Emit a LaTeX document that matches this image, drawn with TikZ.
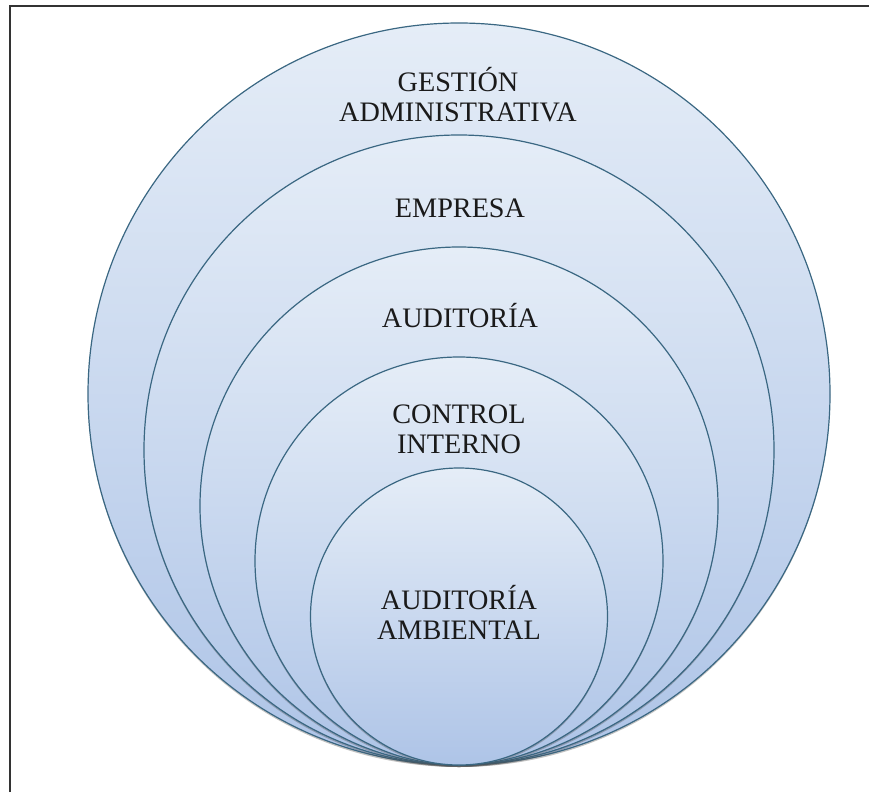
\documentclass[tikz,border=0pt]{standalone}
\usepackage{fontspec}
\setmainfont{Liberation Serif}
\usetikzlibrary{shadows}
\definecolor{ringline}{HTML}{3A6782}
\definecolor{ringtop}{HTML}{E5EDF7}
\definecolor{ringbot}{HTML}{AEC4E7}
\definecolor{framecol}{HTML}{333333}
\definecolor{txt}{HTML}{1A1A1A}
\tikzset{
  ring/.style={circle, inner sep=0pt, draw=ringline, line width=1.2pt,
    top color=ringtop, bottom color=ringbot,
    drop shadow={shadow xshift=0pt, shadow yshift=-2pt, opacity=0.35, fill=black!70}},
  lbl/.style={anchor=base, align=center, text=txt, inner sep=0pt,
    font=\fontsize{28.2}{29.5}\selectfont}
}
\begin{document}
\begin{tikzpicture}[x=1pt, y=-1pt]
\useasboundingbox (0,0) rectangle (869,792);
\draw[framecol, line width=2pt] (10,792) -- (10,6) -- (869,6);
\node[ring, minimum size=742pt] (c1) at (459,394) {};
\node[ring, minimum size=630pt] (c2) at (459,450) {};
\node[ring, minimum size=518pt] (c3) at (459,506) {};
\node[ring, minimum size=408pt] (c4) at (459,561) {};
\node[ring, minimum size=297pt] (c5) at (459,616.5) {};
\node[lbl] (t1) at (458,121) {GESTIÓN\\ADMINISTRATIVA};
\node[lbl] (t2) at (460,217) {EMPRESA};
\node[lbl] (t3) at (460,327) {AUDITORÍA};
\node[lbl] (t4) at (459,453) {CONTROL\\INTERNO};
\node[lbl] (t5) at (459,639) {AUDITORÍA\\AMBIENTAL};
\end{tikzpicture}
\end{document}
